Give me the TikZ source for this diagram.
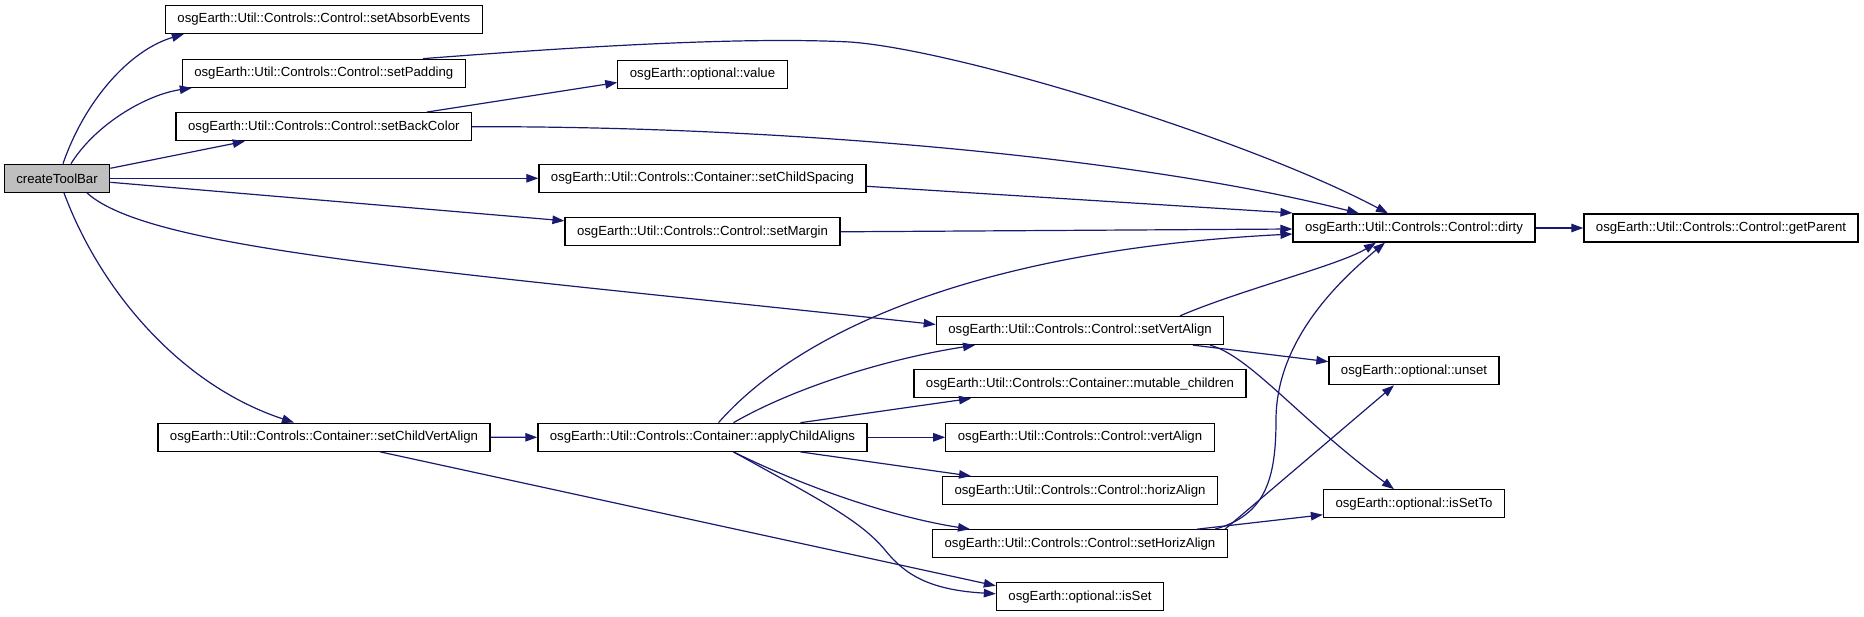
\documentclass[tikz,border=0pt]{standalone}
\usepackage{fontspec}
\setmainfont{Liberation Sans}
\usetikzlibrary{arrows.meta}
\definecolor{edgec}{HTML}{191970}
\definecolor{rootfill}{HTML}{BFBFBF}
\tikzset{
  fn/.style={draw=black, line width=1.25pt, fill=white, inner xsep=12pt, inner ysep=0pt,
    minimum height=28pt, font=\fontsize{13.2}{15}\selectfont, anchor=center},
  rootfn/.style={fn, fill=rootfill},
  call/.style={draw=edgec, line width=1.2pt, -{Triangle[length=12pt,width=8.5pt]}, edgec}
}
\begin{document}
\begin{tikzpicture}[x=1pt,y=-1pt]
\path[use as bounding box] (0,0) rectangle (1864,617);

\node[rootfn] (ctb) at (57,178.3) {createToolBar};
\node[fn] (sae) at (323.8,19.5) {osgEarth::Util::Controls::Control::setAbsorbEvents};
\node[fn] (spad) at (323.8,73.3) {osgEarth::Util::Controls::Control::setPadding};
\node[fn] (sbc) at (323.8,126.7) {osgEarth::Util::Controls::Control::setBackColor};
\node[fn] (scva) at (324,437.2) {osgEarth::Util::Controls::Container::setChildVertAlign};
\node[fn] (val) at (702.5,74.5) {osgEarth::optional::value};
\node[fn] (scs) at (702.5,178.3) {osgEarth::Util::Controls::Container::setChildSpacing};
\node[fn] (smar) at (702.5,231.8) {osgEarth::Util::Controls::Control::setMargin};
\node[fn] (aca) at (702.5,437.3) {osgEarth::Util::Controls::Container::applyChildAligns};
\node[fn] (sva) at (1080,330.5) {osgEarth::Util::Controls::Control::setVertAlign};
\node[fn] (mc) at (1080,383.8) {osgEarth::Util::Controls::Container::mutable\_children};
\node[fn] (va) at (1080,437.3) {osgEarth::Util::Controls::Control::vertAlign};
\node[fn] (ha) at (1080,490.7) {osgEarth::Util::Controls::Control::horizAlign};
\node[fn] (sha) at (1080,543.8) {osgEarth::Util::Controls::Control::setHorizAlign};
\node[fn] (isset) at (1080,596.8) {osgEarth::optional::isSet};
\node[fn] (dirty) at (1414,228) {osgEarth::Util::Controls::Control::dirty};
\node[fn] (unset) at (1414,370.7) {osgEarth::optional::unset};
\node[fn] (issetto) at (1414,503.8) {osgEarth::optional::isSetTo};
\node[fn] (gp) at (1721,228) {osgEarth::Util::Controls::Control::getParent};

% createToolBar
\draw[call] ([xshift=6pt]ctb.north) .. controls (85,100) and (130,50) .. ([xshift=-140pt]sae.south);
\draw[call] ([xshift=14pt]ctb.north) .. controls (95,125) and (145,95) .. ([xshift=-132pt]spad.south);
\draw[call] ([yshift=10pt]ctb.east) -- ([xshift=-79pt]sbc.south);
\draw[call] (ctb.east) -- (scs.west);
\draw[call] ([yshift=-4pt]ctb.east) -- ([yshift=11pt]smar.west);
\draw[call] ([xshift=30pt]ctb.south) .. controls (150,250) and (430,270) .. ([yshift=6pt]sva.west);
\draw[call] ([xshift=7pt]ctb.south) .. controls (100,290) and (180,385) .. ([xshift=-30pt]scva.north);

% second column
\draw[call] ([xshift=99pt]spad.north) .. controls (600,45) and (750,37) .. (850,42)
  .. controls (960,50) and (1250,140) .. ([xshift=-26pt]dirty.north);
\draw[call] ([xshift=103pt]sbc.north) -- ([yshift=-8pt]val.west);
\draw[call] (sbc.east) .. controls (800,126) and (1150,160) .. ([xshift=-55pt]dirty.north);
\draw[call] (scva.east) -- (aca.west);
\draw[call] ([xshift=56pt]scva.south) -- ([yshift=11pt]isset.west);

% third column
\draw[call] ([yshift=-8pt]scs.east) -- ([yshift=15pt]dirty.west);
\draw[call] (smar.east) -- ([yshift=-1pt]dirty.west);
\draw[call] ([xshift=16pt]aca.north) .. controls (800,330) and (980,250) .. ([yshift=-6pt]dirty.west);
\draw[call] ([xshift=31pt]aca.north) .. controls (790,390) and (880,360) .. ([xshift=-105pt]sva.south);
\draw[call] ([xshift=98pt]aca.north) -- ([xshift=-109pt]mc.south);
\draw[call] (aca.east) -- (va.west);
\draw[call] ([xshift=98pt]aca.south) -- ([xshift=-109pt]ha.north);
\draw[call] ([xshift=31pt]aca.south) .. controls (790,480) and (880,515) .. ([xshift=-110pt]sha.north);
\draw[call] ([xshift=31pt]aca.south) .. controls (820,500) and (860,520) .. (885,550)
  .. controls (905,575) and (930,590) .. ([yshift=3pt]isset.west);

% fourth column
\draw[call] ([xshift=100pt]sva.north) .. controls (1240,290) and (1340,265) .. ([xshift=-38pt]dirty.south);
\draw[call] ([xshift=113pt]sva.south) -- ([yshift=9pt]unset.west);
\draw[call] ([xshift=130pt]sva.south) .. controls (1250,356) and (1300,420) .. ([xshift=-20pt]issetto.north);
\draw[call] ([xshift=135pt]sha.north) .. controls (1265,515) and (1276,480) .. (1276,420)
  .. controls (1276,340) and (1340,280) .. ([xshift=-29pt]dirty.south);
\draw[call] ([xshift=145pt]sha.north) -- ([xshift=-20pt]unset.south);
\draw[call] ([xshift=117pt]sha.north) -- ([yshift=-11pt]issetto.west);

% fifth column
\draw[call] (dirty.east) -- (gp.west);
\end{tikzpicture}
\end{document}
